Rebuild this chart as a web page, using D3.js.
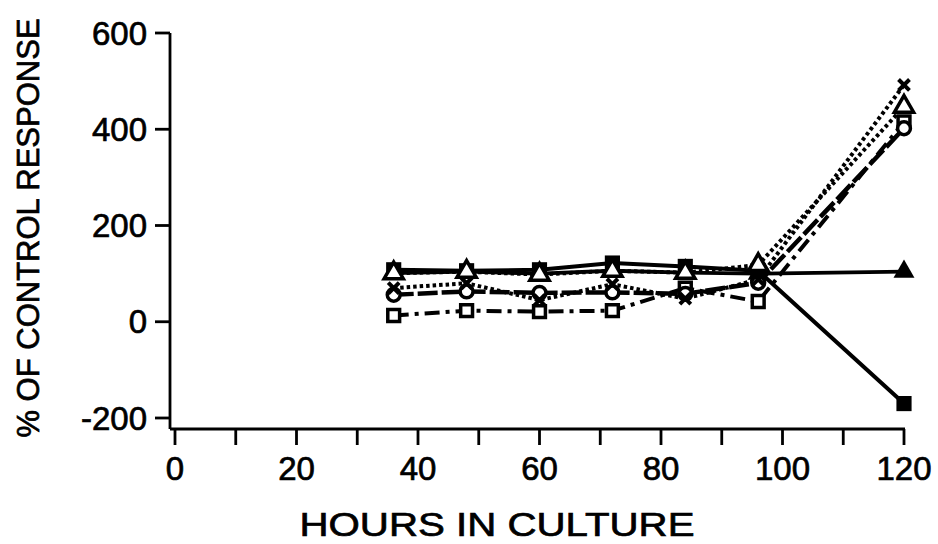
<!DOCTYPE html>
<html>
<head>
<meta charset="utf-8">
<script src="https://cdn.jsdelivr.net/npm/d3@7"></script>
<style>
  html, body { margin: 0; padding: 0; background: #fff; }
  svg { display: block; }
  text { font-family: "Liberation Sans", Arial, sans-serif; fill: #000; stroke: #000; stroke-width: 0.7px; }
</style>
</head>
<body>
<svg id="chart" width="938" height="544"></svg>
<script>
// Sampling times (hours in culture)
const hours = [36, 48, 60, 72, 84, 96, 120];

// Response, % of control, one array per treatment
const filledSquare   = [108, 106, 108, 122, 115, 106, -170];
const filledTriangle = [101, 104, 100, 106, 102, 100, 104];
const openTriangle   = [101, 104, 98, 106, 102, 118, 447];
const crossMark      = [70, 80, 45, 78, 48, 88, 492];
const openCircle     = [56, 63, 60, 61, 58, 81, 402];
const openSquare     = [13, 23, 21, 23, 70, 42, 415];

// Axis ticks
const xTickValues = [0, 20, 40, 60, 80, 100, 120];
const xMinorTicks = [0, 10, 20, 30, 40, 50, 60, 70, 80, 90, 100, 110, 120];
const yTickValues = [-200, 0, 200, 400, 600];

const svg = d3.select("#chart");

const x = d3.scaleLinear().domain([0, 120]).range([175, 904]);
const y = d3.scaleLinear().domain([-200, 600]).range([418, 33]);

const axisX = 170;   // position of the vertical axis line
const axisY = 429;   // position of the horizontal axis line

// Axis lines
svg.append("line").attr("x1", axisX).attr("x2", axisX)
  .attr("y1", y(600)).attr("y2", axisY)
  .attr("stroke", "#000").attr("stroke-width", 2.8);
svg.append("line").attr("x1", axisX).attr("x2", x(120) + 1)
  .attr("y1", axisY).attr("y2", axisY)
  .attr("stroke", "#000").attr("stroke-width", 2.8);

// Y ticks and labels
const yT = svg.append("g");
yTickValues.forEach(v => {
  yT.append("line").attr("x1", axisX - 15).attr("x2", axisX)
    .attr("y1", y(v)).attr("y2", y(v))
    .attr("stroke", "#000").attr("stroke-width", 2.8);
  yT.append("text").attr("x", 147).attr("y", y(v))
    .attr("text-anchor", "end").attr("dominant-baseline", "central")
    .attr("font-size", 33)
    .text(v < 0 ? "-" + Math.abs(v) : String(v));
});

// X ticks and labels
const xT = svg.append("g");
xMinorTicks.forEach(v => {
  xT.append("line").attr("x1", x(v)).attr("x2", x(v))
    .attr("y1", axisY).attr("y2", axisY + 16)
    .attr("stroke", "#000").attr("stroke-width", 2.8);
});
xTickValues.forEach(v => {
  xT.append("text").attr("x", x(v)).attr("y", 468)
    .attr("text-anchor", "middle").attr("dominant-baseline", "central")
    .attr("font-size", 33)
    .text(String(v));
});

// Axis titles
svg.append("text")
  .attr("transform", "translate(39,228) rotate(-90)")
  .attr("text-anchor", "middle")
  .attr("font-size", 31)
  .text("% OF CONTROL RESPONSE");

svg.append("text")
  .attr("x", 497).attr("y", 536)
  .attr("text-anchor", "middle")
  .attr("font-size", 34)
  .attr("textLength", 395).attr("lengthAdjust", "spacingAndGlyphs")
  .text("HOURS IN CULTURE");

// Series lines
const series = [
  { vals: openSquare,     dash: "15,6,4,6", width: 4,   marker: "openSquare" },
  { vals: openCircle,     dash: "20,4",     width: 4.5, marker: "openCircle" },
  { vals: crossMark,      dash: "3.5,3",    width: 4,   marker: "cross" },
  { vals: filledTriangle, dash: null,       width: 3.8, marker: "filledTriangle" },
  { vals: filledSquare,   dash: null,       width: 4,   marker: "filledSquare" },
  { vals: openTriangle,   dash: "3.5,3",    width: 4,   marker: "openTriangle" }
];

const line = d3.line().x(d => x(d.h)).y(d => y(d.v));

series.forEach(s => {
  const pts = hours.map((h, i) => ({ h, v: s.vals[i] }));
  svg.append("path").datum(pts)
    .attr("d", line)
    .attr("fill", "none")
    .attr("stroke", "#000")
    .attr("stroke-width", s.width)
    .attr("stroke-linejoin", "round")
    .attr("stroke-dasharray", s.dash);
});

// Markers
const sym = {
  filledSquare:   d3.symbol().type(d3.symbolSquare).size(230),
  openSquare:     d3.symbol().type(d3.symbolSquare).size(140),
  openCircle:     d3.symbol().type(d3.symbolCircle).size(130),
  filledTriangle: d3.symbol().type(d3.symbolTriangle).size(190),
  openTriangle:   d3.symbol().type(d3.symbolTriangle).size(160),
  cross:          d3.symbol().type(d3.symbolTimes).size(80)
};
const markerOrder = ["filledTriangle", "filledSquare", "openSquare", "openCircle", "cross", "openTriangle"];
markerOrder.forEach(m => {
  const s = series.find(d => d.marker === m);
  const g = svg.append("g");
  hours.forEach((h, i) => {
    const p = g.append("path")
      .attr("d", sym[m]())
      .attr("transform", `translate(${x(h)},${y(s.vals[i])})`);
    if (m === "filledSquare" || m === "filledTriangle") {
      p.attr("fill", "#000");
    } else if (m === "cross") {
      p.attr("fill", "none").attr("stroke", "#000").attr("stroke-width", 4);
    } else {
      p.attr("fill", "#fff").attr("stroke", "#000").attr("stroke-width", 3.5);
    }
  });
});
</script>
</body>
</html>
